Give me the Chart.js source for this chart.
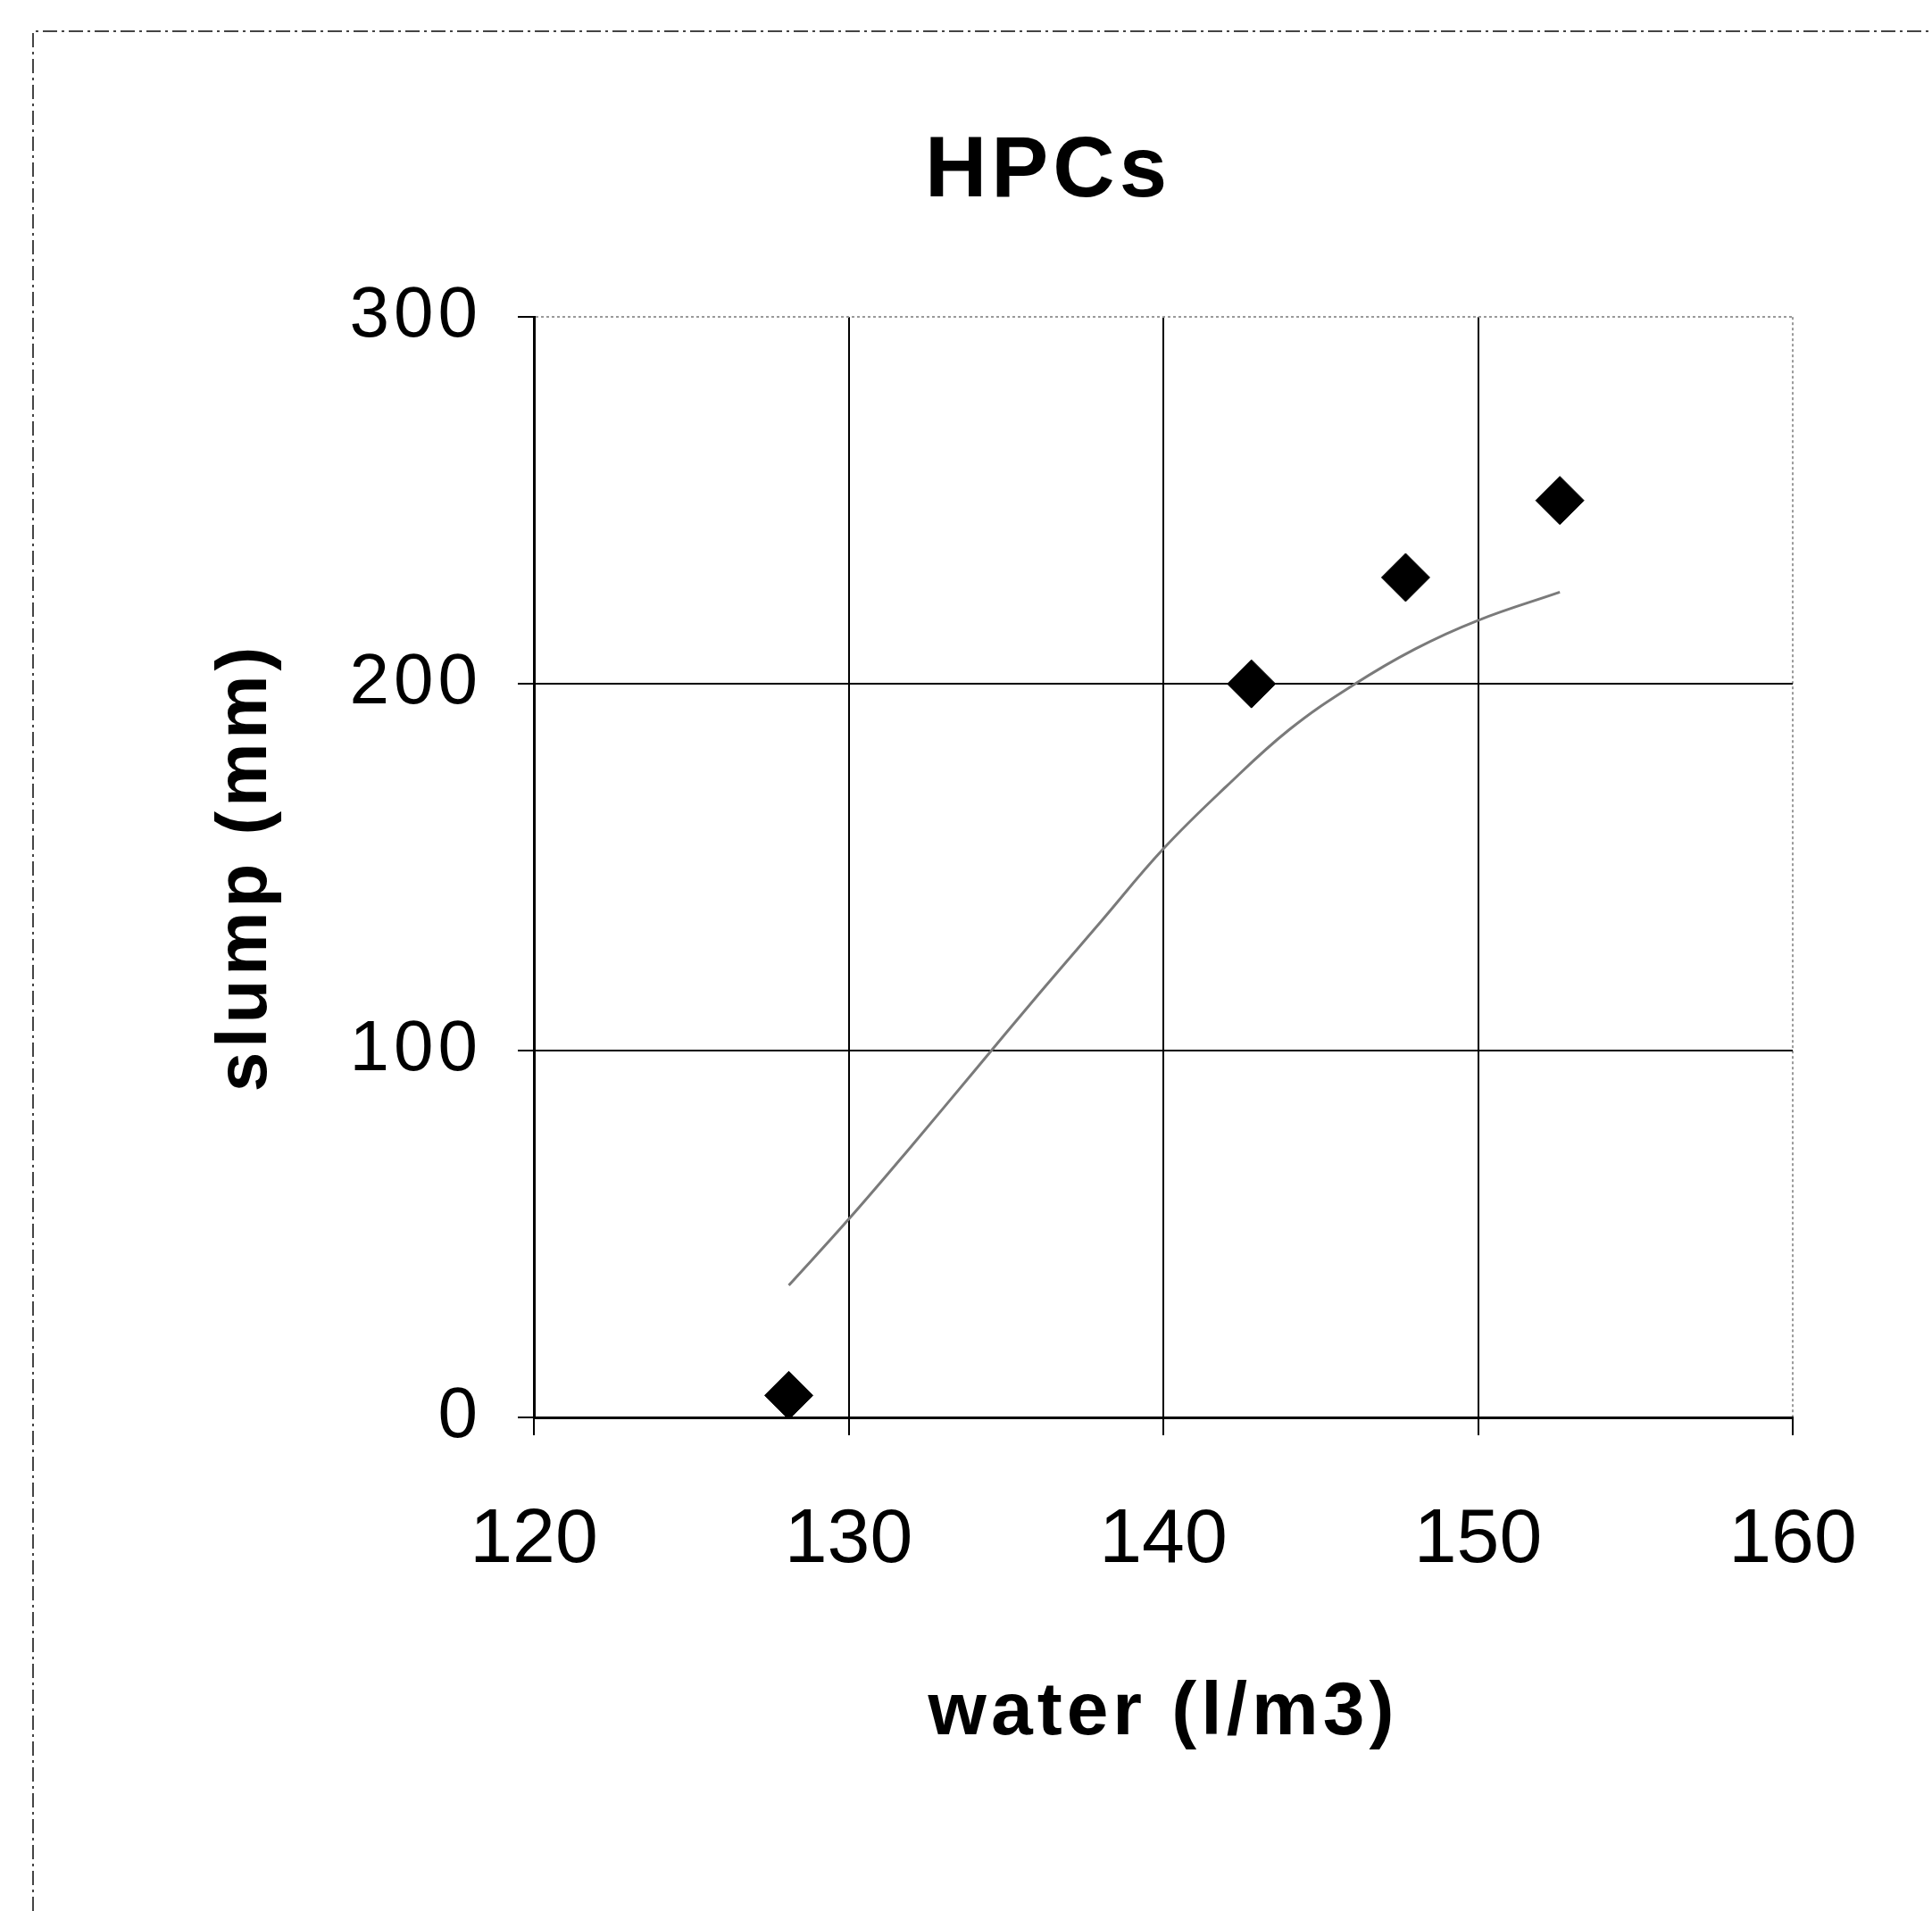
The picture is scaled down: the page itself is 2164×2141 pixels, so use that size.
<!DOCTYPE html>
<html>
<head>
<meta charset="utf-8">
<script src="https://cdn.jsdelivr.net/npm/chart.js@4"></script>
<style>
  body { margin: 0; background: #fff; }
</style>
</head>
<body>
<canvas id="myChart" width="2164" height="2141"></canvas>
<script>
// measured points (water l/m3, slump mm)
const waterValues = [128.1, 142.8, 147.7, 152.6];
const slumpValues = [6, 200, 229, 250];

// trend line
const trendWater = [128.1, 130, 132, 134, 136, 138, 140, 142, 144, 146, 148, 150, 152.6];
const trendSlump = [36, 54, 74, 94.5, 115, 135, 155, 172, 187.5, 199.5, 209.5, 217.3, 225];

const xTicks = [120, 130, 140, 150, 160];
const yTicks = [0, 100, 200, 300];

const fontName = "'Liberation Sans', Arial, sans-serif";

// frame round the whole figure + wide lettering like the scanned original
const framePlugin = {
  id: 'frame',
  beforeDraw(chart) {
    const c = chart.ctx;
    c.save();
    c.fillStyle = '#fff';
    c.fillRect(0, 0, chart.width, chart.height);
    c.strokeStyle = '#444';
    c.lineWidth = 2;
    c.setLineDash([16, 5, 3, 5]);
    c.beginPath();
    c.moveTo(37, chart.height);
    c.lineTo(37, 35);
    c.lineTo(chart.width, 35);
    c.stroke();
    c.restore();
    c.letterSpacing = '5px';
  },
  afterDatasetsDraw(chart) {
    // x tick labels (z: 1) are drawn after this, they are not spaced out
    chart.ctx.letterSpacing = '0px';
  }
};

const ctx = document.getElementById('myChart').getContext('2d');
const myChart = new Chart(ctx, {
  type: 'scatter',
  data: {
    datasets: [{
      label: 'slump',
      data: waterValues.map((w, i) => ({x: w, y: slumpValues[i]})),
      pointStyle: 'rectRot',
      pointRadius: 27,
      backgroundColor: '#000',
      borderColor: '#000',
      borderWidth: 1
    }, {
      label: 'trend',
      type: 'line',
      data: trendWater.map((w, i) => ({x: w, y: trendSlump[i]})),
      showLine: true,
      pointRadius: 0,
      borderColor: '#7a7a7a',
      borderWidth: 3,
      fill: false,
      tension: 0.4
    }]
  },
  options: {
    responsive: false,
    animation: false,
    layout: {
      padding: {left: 340, right: 156, top: 0, bottom: 0}
    },
    plugins: {
      legend: {display: false},
      tooltip: {enabled: false},
      title: {
        display: true,
        text: 'HPCs',
        color: '#000',
        font: {family: fontName, size: 96, weight: 'bold', lineHeight: 1.2},
        padding: {top: 136, bottom: 104}
      }
    },
    scales: {
      x: {
        type: 'linear',
        min: 120,
        max: 160,
        afterBuildTicks: (scale) => { scale.ticks = xTicks.map(v => ({value: v})); },
        afterFit: (scale) => { scale.height = 553; },
        ticks: {
          color: '#000',
          padding: 67,
          z: 1,
          font: {family: fontName, size: 86}
        },
        grid: {
          color: (c) => (c.tick && c.tick.value === 160) ? '#9a9a9a' : '#000',
          lineWidth: 2,
          tickColor: '#000',
          tickLength: 20
        },
        border: {
          color: '#000',
          width: 3,
          dash: (c) => (c.tick && c.tick.value === 160) ? [3, 3] : []
        },
        title: {
          display: true,
          text: 'water (l/m3)',
          color: '#000',
          font: {family: fontName, size: 84, weight: 'bold', lineHeight: 1.2},
          padding: {top: 0, bottom: 171}
        }
      },
      y: {
        min: 0,
        max: 300,
        afterBuildTicks: (scale) => { scale.ticks = yTicks.map(v => ({value: v})); },
        afterFit: (scale) => { scale.width = 258; },
        ticks: {
          color: '#000',
          padding: 40,
          font: {family: fontName, size: 80}
        },
        grid: {
          color: (c) => (c.tick && c.tick.value === 300) ? '#9a9a9a' : '#000',
          lineWidth: 2,
          tickColor: '#000',
          tickLength: 18
        },
        border: {
          color: '#000',
          width: 3,
          dash: (c) => (c.tick && c.tick.value === 300) ? [3, 3] : []
        },
        title: {
          display: true,
          text: 'slump (mm)',
          color: '#000',
          font: {family: fontName, size: 80, weight: 'bold', lineHeight: 1.2},
          padding: {top: -112, bottom: 0}
        }
      }
    }
  },
  plugins: [framePlugin]
});
</script>
</body>
</html>
